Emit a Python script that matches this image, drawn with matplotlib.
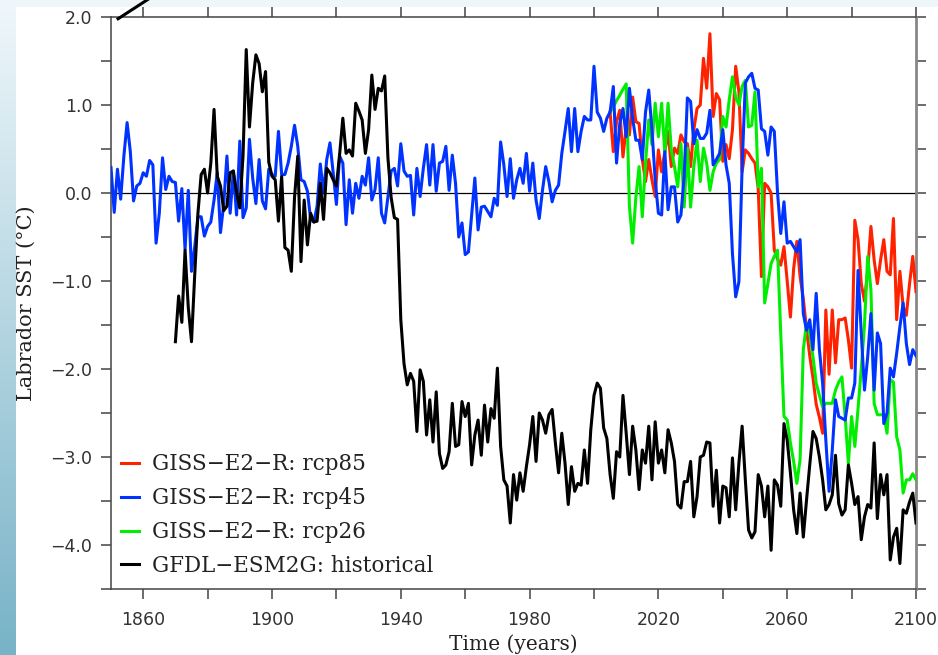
import numpy as np
import matplotlib
matplotlib.use("Agg")
import matplotlib.pyplot as plt
from matplotlib.ticker import FixedLocator, FixedFormatter

# GISS-E2-R historical + rcp45 (blue), 1850-2100
blue = [0.29, -0.22, 0.27, -0.07, 0.42, 0.80, 0.47, -0.09, 0.08, 0.11,
        0.23, 0.19, 0.37, 0.32, -0.57, -0.23, 0.40, 0.04, 0.19, 0.13,
        0.12, -0.32, 0.05, -0.64, 0.03, -0.89, -0.61, -0.27, -0.27, -0.49,
        -0.38, -0.33, -0.08, 0.23, -0.45, -0.13, 0.42, -0.23, 0.25, -0.25,
        0.59, -0.28, -0.17, 0.61, 0.17, -0.12, 0.38, -0.09, -0.18, 0.27,
        0.21,
        0.19, 0.70, 0.21, 0.21, 0.34, 0.53, 0.77, 0.53, 0.15, 0.13,
        0.02, -0.30, -0.33, -0.15, 0.33, 0.00, 0.38, 0.57, 0.23, -0.13,
        0.42, 0.34, -0.36, 0.15, -0.23, 0.11, -0.06, 0.19, 0.09, 0.40,
        -0.08, 0.04, 0.40, -0.23, -0.34, -0.04, 0.25, 0.28, 0.08, 0.56,
        0.25, 0.19, 0.20, -0.25, 0.28,
        -0.04, 0.28, 0.55, 0.09, 0.55, 0.02, 0.34, 0.36, 0.53, 0.03,
        0.43, 0.11, -0.50, -0.34, -0.70, -0.67, -0.25, 0.17, -0.42, -0.16,
        -0.15, -0.21, -0.27, -0.06, -0.14, 0.58, 0.32, -0.04, 0.39, -0.06,
        0.15, 0.28, 0.11, 0.45, 0.02, 0.34, -0.08, -0.29, 0.03, 0.30,
        0.13, -0.10, 0.03, 0.09, 0.45, 0.70, 0.96, 0.47, 0.96, 0.47,
        0.70, 0.87, 0.83, 0.83, 1.44, 0.92,
        0.85, 0.70, 0.85, 0.92, 1.21, 0.34, 0.79, 0.96, 0.64, 1.19,
        0.85, 0.60, 0.60, 0.38, 0.92, 1.17, 0.72, 0.15, -0.23, -0.25,
        0.47, -0.19, 0.07, 0.07, -0.33, -0.25, 0.19, 1.08, 1.04, 0.56,
        0.72, 0.62, 0.62, 0.68, 0.94, 0.32, 0.38, 0.45, 0.72, 0.32,
        0.11, -0.69, -1.18, -1.01, 0.30, 1.25, 1.32, 1.36, 1.19, 1.17,
        0.73, 0.70, 0.43, 0.75, 0.70,
        0.00, -0.46, -0.10, -0.57, -0.55, -0.61, -0.67, -0.53, -1.37, -1.56,
        -1.44, -1.78, -1.14, -1.78, -2.16, -2.81, -3.39, -2.92, -2.35, -2.54,
        -2.56, -2.58, -2.33, -2.33, -2.16, -0.88, -1.59, -2.24, -1.86, -1.37,
        -2.24, -1.59, -1.71, -2.62, -2.50, -1.99, -2.09, -1.82, -1.52, -1.25,
        -1.71, -1.95, -1.78, -1.85]

# GFDL-ESM2G historical (black), 1870-2100
black = [-1.69, -1.17, -1.47, -0.65, -1.30, -1.69, -0.93, -0.23, 0.21, 0.27,
         0.00, 0.34, 0.95, 0.19, 0.08, -0.20, -0.15, 0.23, 0.25, 0.00,
         -0.17, 0.42, 1.63, 0.75, 1.25, 1.57, 1.47, 1.15, 1.38, 0.35,
         0.19,
         0.15, -0.32, 0.19, -0.62, -0.65, -0.89, -0.05, 0.42, -0.78, -0.08,
         -0.59, -0.23, -0.33, -0.32, 0.11, -0.30, 0.28, 0.23, 0.15, 0.08,
         0.44, 0.85, 0.45, 0.49, 0.42, 1.02, 0.93, 0.83, 0.45, 0.72,
         1.34, 0.95, 1.19, 1.16, 1.33, 0.40, -0.05, -0.28, -0.30,
         -1.44, -1.94, -2.18, -2.05, -2.14, -2.71,
         -2.01, -2.14, -2.75, -2.35, -2.83, -2.26, -2.96, -3.13, -3.09, -2.94,
         -2.39, -2.88, -2.86, -2.37, -2.54, -2.39, -3.09, -2.75, -2.58, -2.98,
         -2.41, -2.83, -2.45, -2.56, -1.99, -2.88, -3.26, -3.33, -3.75, -3.20,
         -3.49, -3.18, -3.39, -3.11, -2.86, -2.54, -3.05, -2.50, -2.58, -2.73,
         -2.52, -2.46, -2.84, -3.18, -2.73, -3.07, -3.54, -3.11, -3.39, -3.30,
         -3.32, -2.92, -3.30, -2.69, -2.30, -2.16,
         -2.22, -2.67, -2.79, -3.20, -3.47, -2.94, -3.00, -2.30, -2.73, -3.20,
         -2.65, -2.92, -3.37, -2.92, -3.07, -2.65, -3.26, -2.60, -3.07, -2.92,
         -3.18, -2.69, -2.84, -3.05, -3.54, -3.58, -3.28, -3.28, -3.05, -3.68,
         -3.45, -3.00, -2.98, -2.83, -2.84, -3.56, -3.15, -3.75, -3.33, -3.35,
         -3.68, -3.01, -3.60, -3.07, -2.65, -3.26, -3.83, -3.92, -3.85, -3.20,
         -3.33, -3.68, -3.33, -4.06, -3.26, -3.32, -3.56, -2.62, -2.81, -3.18,
         -3.60, -3.87, -3.41, -3.91, -3.49, -3.09, -2.71, -2.79, -3.00, -3.26,
         -3.60, -3.54, -3.43, -2.98, -3.53, -3.66, -3.60, -3.09, -3.30, -3.54,
         -3.45, -3.94, -3.68, -3.54, -3.58, -2.84, -3.70, -3.20, -3.43, -3.20,
         -4.17, -3.91, -3.81, -4.21, -3.60, -3.64, -3.51, -3.41, -3.75]

# GISS-E2-R rcp85 (red), 2005-2100
red = [0.92, 0.47, 0.81, 0.94, 0.41, 0.75, 0.66, 1.09, 0.81, 0.79,
       0.38, 0.13, 0.38, 0.15, -0.04, 0.49, 0.24, 0.47, 0.70, 0.30,
       0.51, 0.45, 0.66, 0.58, 0.56, 0.30, 0.72, 0.96, 1.00, 1.53,
       1.19, 1.81, 0.87, 1.13, 1.06, 0.36, 0.55, 0.39, 0.72, 1.44,
       1.15, 0.24, 0.49, 0.45, 0.39, 0.34, 0.05, -0.95, 0.11, 0.07,
       0.00, -0.65, -0.75, -0.82, -0.61, -1.00, -1.41, -0.86, -0.55, -0.95,
       -1.20, -1.55, -1.85, -2.10, -2.40, -2.55, -2.73, -1.33, -2.06, -1.33,
       -1.93, -1.44, -1.44, -1.42, -1.67, -1.99, -0.31, -0.53, -1.03, -1.23,
       -0.88, -0.38, -0.76, -1.03, -0.76, -0.53, -0.89, -0.93, -0.29, -1.44,
       -0.89, -1.29, -1.39, -1.03, -0.72, -1.12]

# GISS-E2-R rcp26 (green), 2005-2100
green = [0.92, 0.98, 1.05, 1.11, 1.18, 1.24, -0.15, -0.57, -0.05, 0.30,
         -0.27, 0.34, 0.83, 0.55, 1.02, 0.64, 1.02, 0.45, 1.02, 0.49,
         0.30, 0.07, 0.56, -0.16, 0.51, -0.16, 0.30, 0.60, 0.13, 0.51,
         0.34, 0.03, 0.24, 0.34, 0.38, 0.87, 0.75, 1.06, 1.32, 1.09,
         1.00, 1.21, 1.28, 0.75, 0.77, 1.15, 0.07, 0.28, -1.25, -1.03,
         -0.80, -0.72, -0.65, -1.60, -2.54, -2.58, -2.84, -3.05, -3.30, -3.03,
         -1.78, -1.48, -1.59, -1.86, -2.16, -2.30, -2.43, -2.39, -2.39, -2.39,
         -2.24, -2.15, -2.09, -2.54, -3.07, -2.54, -2.88, -2.45, -2.00, -1.50,
         -0.72, -1.10, -2.39, -2.52, -2.52, -2.52, -2.73, -2.12, -2.15, -2.77,
         -2.92, -3.41, -3.26, -3.26, -3.19, -3.26]

# stray segment poking out above the top-left corner
stray_x = [1852.2, 1864.0]
stray_y = [1.98, 2.26]

labels = ["GISS\u2212E2\u2212R: rcp85", "GISS\u2212E2\u2212R: rcp45",
          "GISS\u2212E2\u2212R: rcp26", "GFDL\u2212ESM2G: historical"]
colors = ["#ff2200", "#0033ff", "#00ee00", "#000000"]

yr_blue = np.arange(1850, 1850 + len(blue))
yr_black = np.arange(1870, 1870 + len(black))
yr_red = np.arange(2005, 2005 + len(red))
yr_green = np.arange(2005, 2005 + len(green))

fig = plt.figure(figsize=(9.38, 6.55), dpi=100)

# pale blue decoration on the left and top edges
strip = fig.add_axes([0, 0, 16 / 938, 1])
grad = np.linspace(0, 1, 256)[:, None]
top_c = np.array([0.94, 0.97, 0.985])
bot_c = np.array([0.47, 0.70, 0.78])
img = top_c[None, None, :] * (1 - grad[:, :, None]) + bot_c[None, None, :] * grad[:, :, None]
strip.imshow(img, aspect="auto", extent=[0, 1, 0, 1])
strip.axis("off")
topb = fig.add_axes([0, 1 - 7 / 655, 1, 7 / 655])
topb.set_facecolor("#eef6fa")
topb.set_xticks([])
topb.set_yticks([])
for s in topb.spines.values():
    s.set_visible(False)

ax = fig.add_axes([111 / 938, 1 - 589 / 655, 805 / 938, 572 / 655])
lw = 2.2
ax.plot(yr_red, red, color=colors[0], lw=lw, label=labels[0], zorder=3)
ax.plot(yr_green, green, color=colors[2], lw=lw, label=labels[2], zorder=3)
ax.plot(yr_blue, blue, color=colors[1], lw=lw, label=labels[1], zorder=4)
ax.plot(yr_black, black, color=colors[3], lw=lw, label=labels[3], zorder=5)
ax.plot(stray_x, stray_y, color="k", lw=lw, clip_on=False, zorder=5)
ax.axhline(0, color="k", lw=0.9, zorder=2)

ax.set_xlim(1850, 2100)
ax.set_ylim(-4.5, 2.0)

xt = np.arange(1860, 2101, 20)
ax.xaxis.set_major_locator(FixedLocator(xt))
ax.xaxis.set_major_formatter(FixedFormatter([str(v) if (v - 1860) % 40 == 0 else "" for v in xt]))
yt = np.arange(-4.5, 2.01, 0.5)
ax.yaxis.set_major_locator(FixedLocator(yt))
ax.yaxis.set_major_formatter(FixedFormatter(
    [("%.1f" % v).replace("-", "\u2212") if abs(v - round(v)) < 1e-6 else "" for v in yt]))

ax.tick_params(direction="out", length=7.5, width=1.1, color="#444", top=True, right=True,
               labelsize=12.5, labelcolor="#333")
ax.tick_params(axis="x", pad=8)
ax.tick_params(axis="y", pad=6)
for side in ["left", "top", "bottom"]:
    ax.spines[side].set_color("#444")
    ax.spines[side].set_linewidth(1.1)
ax.spines["right"].set_color("#888")
ax.spines["right"].set_linewidth(2)

serif = "DejaVu Serif"
ax.set_xlabel("Time (years)", fontfamily=serif, fontsize=14.5, color="#222")
ax.xaxis.set_label_coords(0.5, -0.08)
ax.set_ylabel("Labrador SST (\u00b0C)", fontfamily=serif, fontsize=15, color="#222")
ax.yaxis.set_label_coords(-0.093, 0.5)

h, l = ax.get_legend_handles_labels()
order = [l.index(s) for s in labels]
leg = ax.legend([h[i] for i in order], [l[i] for i in order], loc="upper left",
                bbox_to_anchor=(0.0124, 0.237), frameon=False, borderpad=0,
                borderaxespad=0, handlelength=0.84, handletextpad=0.6,
                labelspacing=0.55, prop={"family": serif, "size": 15.5})
for t in leg.get_texts():
    t.set_color("#222")

plt.savefig("out.png", dpi=100)
